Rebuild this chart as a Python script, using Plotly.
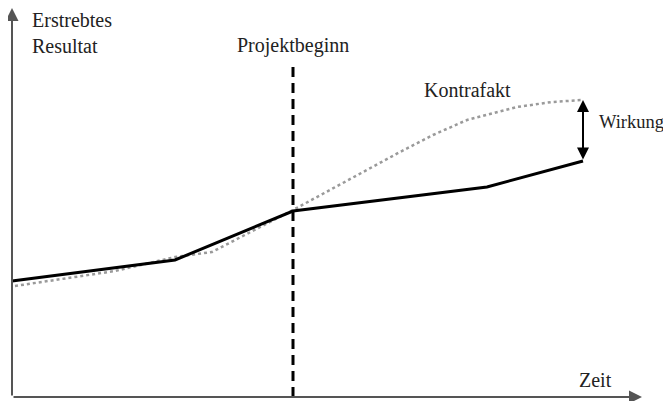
import plotly.graph_objects as go

# Data (arbitrary units: time on x, result on y)
ist_x = [0, 163, 281, 475, 571]
ist_y = [116, 137, 186, 210, 236]

kontra_x = [3, 103, 163, 200, 281, 388, 421, 455, 505, 540, 570]
kontra_y = [111, 126, 140, 145, 187, 245, 262, 277, 290, 295, 297]

projektbeginn_x = 281
dash_top = 333
axis_x_end = 630
axis_y_end = 389

FONT = "Liberation Serif, Times New Roman, serif"

fig = go.Figure()

fig.add_trace(go.Scatter(
    x=kontra_x, y=kontra_y, mode="lines",
    line=dict(color="#9a9a9a", width=2.5, dash="dot"),
    hoverinfo="skip", showlegend=False))

fig.add_trace(go.Scatter(
    x=ist_x, y=ist_y, mode="lines",
    line=dict(color="#000000", width=3),
    hoverinfo="skip", showlegend=False))

fig.add_trace(go.Scatter(
    x=[projektbeginn_x, projektbeginn_x], y=[0, dash_top], mode="lines",
    line=dict(color="#000000", width=3, dash="10px,6px"),
    hoverinfo="skip", showlegend=False))

annotations = [
    dict(x=0, y=axis_y_end, ax=0, ay=0, xref="x", yref="y", axref="x", ayref="y",
         showarrow=True, arrowhead=2, arrowsize=1.3, arrowwidth=2, arrowcolor="#555555", text=""),
    dict(x=axis_x_end, y=0, ax=0, ay=0, xref="x", yref="y", axref="x", ayref="y",
         showarrow=True, arrowhead=2, arrowsize=1.3, arrowwidth=2, arrowcolor="#555555", text=""),
    dict(x=ist_x[-1], y=kontra_y[-1], ax=ist_x[-1], ay=ist_y[-1], xref="x", yref="y",
         axref="x", ayref="y", showarrow=True, arrowhead=2, startarrowhead=2,
         arrowside="end+start", arrowsize=1.2, arrowwidth=2, arrowcolor="#000000", text=""),
]

texts = [
    ("Erstrebtes<br>Resultat", 18, 364, "left", 20),
    ("Projektbeginn", projektbeginn_x, 352, "center", 20),
    ("Kontrafakt", 455, 307, "center", 20),
    ("Wirkung", 585, 275, "left", 18.5),
    ("Zeit", 583, 17, "center", 20),
]
for t, x, y, al, sz in texts:
    annotations.append(dict(x=x, y=y, xref="x", yref="y", text=t, showarrow=False,
                            xanchor=al, yanchor="middle", align="left",
                            font=dict(family=FONT, size=sz, color="#222222")))

fig.update_layout(
    width=663, height=393,
    margin=dict(l=0, r=0, t=0, b=0),
    paper_bgcolor="white", plot_bgcolor="white",
    xaxis=dict(range=[-4, 659], visible=False, fixedrange=True),
    yaxis=dict(range=[-4, 389], visible=False, fixedrange=True),
    annotations=annotations,
)

fig.write_html("out.html")
